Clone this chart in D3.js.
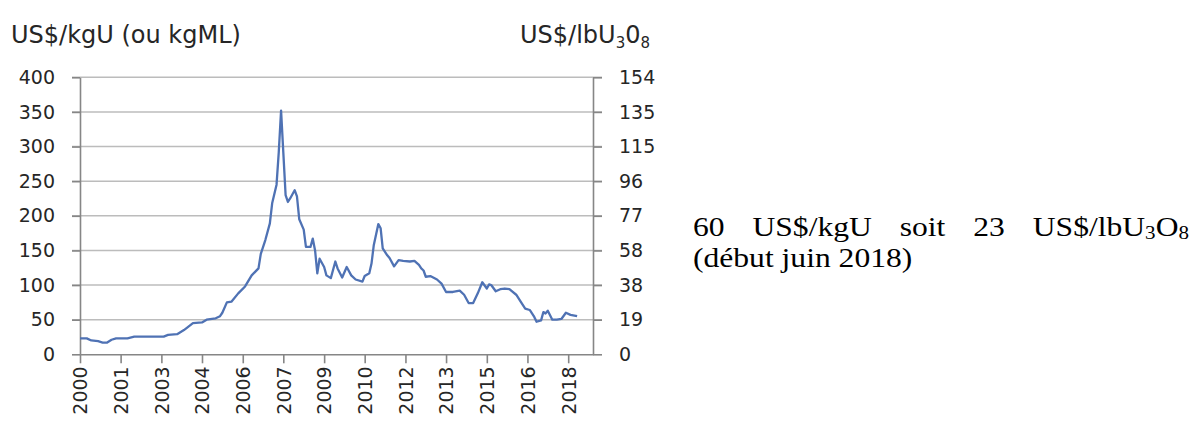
<!DOCTYPE html>
<html lang="fr">
<head>
<meta charset="UTF-8">
<title>Prix spot de l'uranium</title>
<script src="https://cdn.jsdelivr.net/npm/d3@7"></script>
<style>
  body { margin: 0; background: #fff; }
  .tick text { font-family: "DejaVu Sans", sans-serif; font-size: 19px; fill: #262626; }
  .axis .domain, .axis .tick line { stroke: #868686; stroke-width: 1.6; }
  .grid line { stroke: #bcbcbc; stroke-width: 1.6; }
  .title { font-family: "DejaVu Sans", sans-serif; font-size: 24px; fill: #262626; }
  .note { font-family: "Liberation Serif", "Times New Roman", serif; font-size: 27px; fill: #000; }
</style>
</head>
<body>
<svg id="chart" width="1193" height="423"></svg>
<script>
// monthly spot price, US$/kgU
const months = ["2000-01","2000-04","2000-06","2000-09","2000-11",
  "2001-01","2001-03","2001-05","2001-10","2002-01",
  "2003-02","2003-04","2003-08","2003-11",
  "2004-03","2004-07","2004-09",
  "2005-01","2005-03","2005-04","2005-06","2005-08","2005-11",
  "2006-02","2006-05","2006-08","2006-09","2006-11",
  "2007-01","2007-02","2007-04","2007-05","2007-06","2007-07","2007-08","2007-09","2007-10","2007-12",
  "2008-01","2008-02","2008-04","2008-05","2008-07","2008-08","2008-09","2008-10","2008-11",
  "2009-01","2009-02","2009-04","2009-06","2009-07","2009-09","2009-11",
  "2010-01","2010-03","2010-06","2010-07","2010-09","2010-10","2010-11",
  "2011-01","2011-02","2011-03","2011-05","2011-06","2011-08","2011-10","2011-12",
  "2012-03","2012-05","2012-07","2012-08","2012-09","2012-10","2012-12",
  "2013-03","2013-05","2013-07","2013-10",
  "2014-01","2014-03","2014-05","2014-07","2014-09","2014-11",
  "2015-01","2015-02","2015-03","2015-05","2015-07","2015-09","2015-11",
  "2016-02","2016-04","2016-06","2016-08","2016-10","2016-11",
  "2017-01","2017-02","2017-03","2017-04","2017-06","2017-08","2017-10","2017-12",
  "2018-02","2018-05"];
const prices = [23,23,20,19,17,
  17,21,23,23,25.5,
  25.5,28,29,35,
  45,46,50,
  52,55,60,75,76,88,
  98,114,124,145,165,
  189,218,245,292,352,292,230,220,225,237,
  228,195,180,155,155,167,150,117,138,
  126,114,110,134,124,111,126,
  114,108,105,113,117,131,158,
  188,182,153,143,139,127,136,135,
  134,135,129,124,121,112,113,
  108,102,90,90,
  92,86,74,74,88,104,
  95,101,100,91,94,95,94,
  86,76,66,64,54,47,
  49,61,59,63,50,50,51,60,
  57,55];

const leftTicks = [0, 50, 100, 150, 200, 250, 300, 350, 400];
const rightLabels = ["0", "19", "38", "58", "77", "96", "115", "135", "154"];
const xTickMonths = ["2000-01","2001-07","2003-01","2004-07","2006-01","2007-07",
  "2009-01","2010-07","2012-01","2013-07","2015-01","2016-07","2018-01"];

const parse = d3.timeParse("%Y-%m");
const data = months.map((m, i) => ({ date: parse(m), value: prices[i] }));

const svg = d3.select("#chart");
const plotLeft = 80, plotRight = 593, plotTop = 77.3, plotBottom = 354.3;

const x = d3.scaleTime()
  .domain([parse("2000-01"), parse("2018-12")])
  .range([plotLeft, plotRight]);
const y = d3.scaleLinear().domain([0, 400]).range([plotBottom, plotTop]);

// grid
svg.append("g").attr("class", "grid")
  .selectAll("line")
  .data(leftTicks.filter(d => d > 0))
  .join("line")
  .attr("x1", plotLeft - 8).attr("x2", plotRight + 9)
  .attr("y1", d => y(d)).attr("y2", d => y(d));

svg.append("g").attr("class", "axis")
  .attr("transform", `translate(${plotLeft},0)`)
  .call(d3.axisLeft(y).tickValues(leftTicks).tickSize(8).tickPadding(17).tickSizeOuter(0));

svg.append("g").attr("class", "axis")
  .attr("transform", `translate(${plotRight},0)`)
  .call(d3.axisRight(y).tickValues(leftTicks).tickSize(9).tickPadding(17).tickSizeOuter(0)
    .tickFormat((d, i) => rightLabels[i]));

const xAxis = svg.append("g").attr("class", "axis")
  .attr("transform", `translate(0,${plotBottom})`)
  .call(d3.axisBottom(x).tickValues(xTickMonths.map(parse)).tickSize(9).tickSizeOuter(0)
    .tickFormat(d3.timeFormat("%Y")));
xAxis.selectAll(".tick text")
  .attr("transform", "rotate(-90)")
  .attr("text-anchor", "end")
  .attr("x", -12)
  .attr("y", 0)
  .attr("dy", "0.36em");

svg.append("path")
  .datum(data)
  .attr("fill", "none")
  .attr("stroke", "#4f72b4")
  .attr("stroke-width", 2.3)
  .attr("stroke-linejoin", "round")
  .attr("d", d3.line().x(d => x(d.date)).y(d => y(d.value)));

// axis titles
svg.append("text").attr("class", "title").attr("x", 11).attr("y", 43)
  .text("US$/kgU (ou kgML)");
const t2 = svg.append("text").attr("class", "title").attr("x", 520).attr("y", 43);
t2.append("tspan").text("US$/lbU");
t2.append("tspan").attr("font-size", "15px").attr("dy", 5).text("3");
t2.append("tspan").attr("dy", -5).text("0");
t2.append("tspan").attr("font-size", "15px").attr("dy", 5).text("8");

// note on the right, justified first line
const note = svg.append("g").attr("transform", "translate(693,236) scale(1.17,1)");
const lineWidth = (1189 - 693) / 1.17;
const words = ["60", "US$/kgU", "soit", "23", null];
const nodes = words.map(w => {
  const t = note.append("text").attr("class", "note");
  if (w) t.text(w);
  else {
    t.append("tspan").text("US$/lbU");
    t.append("tspan").attr("font-size", "18px").attr("dy", 3).text("3");
    t.append("tspan").attr("dy", -3).text("O");
    t.append("tspan").attr("font-size", "18px").attr("dy", 3).text("8");
  }
  return t;
});
const widths = nodes.map(t => t.node().getComputedTextLength());
const gap = (lineWidth - d3.sum(widths)) / (nodes.length - 1);
let cx = 0;
nodes.forEach((t, i) => { t.attr("x", cx); cx += widths[i] + gap; });
note.append("text").attr("class", "note").attr("x", 0).attr("y", 31)
  .text("(début juin 2018)");
</script>
</body>
</html>
